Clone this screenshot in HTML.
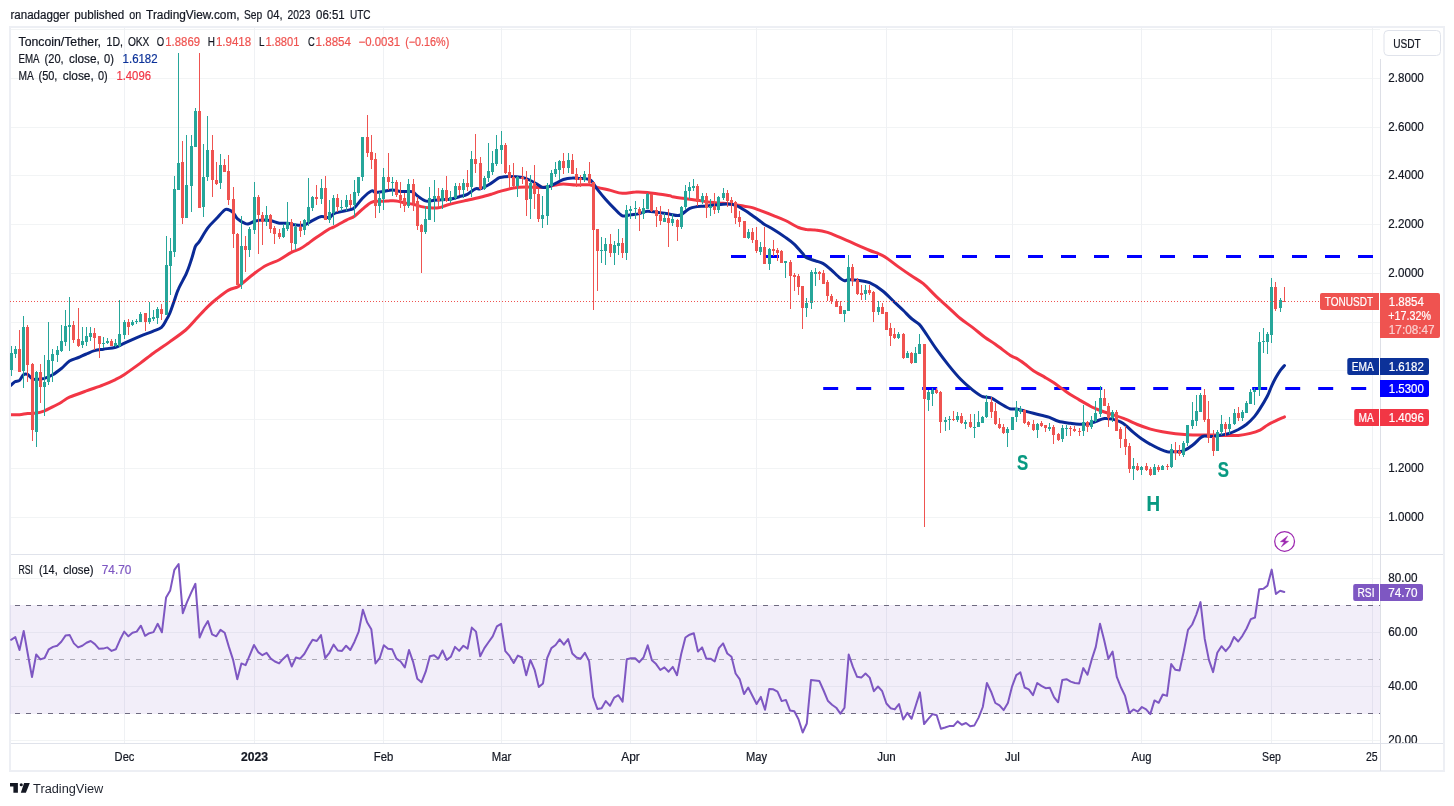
<!DOCTYPE html>
<html><head><meta charset="utf-8"><title>TONUSDT chart</title>
<style>html,body{margin:0;padding:0;background:#fff}svg{display:block}text{white-space:pre}</style></head>
<body>
<svg width="1454" height="806" viewBox="0 0 1454 806" font-family="'Liberation Sans', sans-serif" font-size="12" fill="#131722">
<rect width="1454" height="806" fill="#fff"/>
<rect x="10" y="27" width="1434" height="744" fill="none" stroke="#edeff4" stroke-width="2"/>
<g shape-rendering="crispEdges" fill="#f2f4f5">
<rect x="11" y="29" width="1369" height="1"/>
<rect x="11" y="78" width="1369" height="1"/>
<rect x="11" y="127" width="1369" height="1"/>
<rect x="11" y="175" width="1369" height="1"/>
<rect x="11" y="224" width="1369" height="1"/>
<rect x="11" y="273" width="1369" height="1"/>
<rect x="11" y="322" width="1369" height="1"/>
<rect x="11" y="370" width="1369" height="1"/>
<rect x="11" y="419" width="1369" height="1"/>
<rect x="11" y="468" width="1369" height="1"/>
<rect x="11" y="517" width="1369" height="1"/>
<rect x="11" y="578" width="1369" height="1"/>
<rect x="11" y="632" width="1369" height="1"/>
<rect x="11" y="686" width="1369" height="1"/>
<rect x="11" y="740" width="1369" height="1"/>
<rect x="124" y="28" width="1" height="715" fill="#eff1f4"/>
<rect x="254" y="28" width="1" height="715" fill="#eff1f4"/>
<rect x="383" y="28" width="1" height="715" fill="#eff1f4"/>
<rect x="501" y="28" width="1" height="715" fill="#eff1f4"/>
<rect x="630" y="28" width="1" height="715" fill="#eff1f4"/>
<rect x="756" y="28" width="1" height="715" fill="#eff1f4"/>
<rect x="886" y="28" width="1" height="715" fill="#eff1f4"/>
<rect x="1012" y="28" width="1" height="715" fill="#eff1f4"/>
<rect x="1141" y="28" width="1" height="715" fill="#eff1f4"/>
<rect x="1271" y="28" width="1" height="715" fill="#eff1f4"/>
<rect x="1372" y="28" width="1" height="715" fill="#eff1f4"/>
</g>
<rect x="10" y="605" width="1370" height="109" fill="#7e57c2" fill-opacity="0.1"/>
<g stroke="#787b86" stroke-width="1" shape-rendering="crispEdges">
<line x1="11" y1="605.5" x2="1380" y2="605.5" stroke-dasharray="5 6" stroke-dashoffset="-4" stroke="#6e6a80"/>
<line x1="11" y1="659.5" x2="1380" y2="659.5" stroke-dasharray="5 6" stroke-dashoffset="-4" stroke="#aaa8b4"/>
<line x1="11" y1="713.5" x2="1380" y2="713.5" stroke-dasharray="5 6" stroke-dashoffset="-4" stroke="#6e6a80"/>
</g>
<g shape-rendering="crispEdges" fill="#e0e3eb">
<rect x="11" y="554" width="1432" height="1"/>
<rect x="11" y="743" width="1432" height="1"/>
<rect x="1380" y="59" width="1" height="712" fill="#dddfe6"/>
</g>
<g fill="#0000ff"><rect x="731.0" y="255.0" width="15.0" height="3"/><rect x="764.0" y="255.0" width="15.0" height="3"/><rect x="797.0" y="255.0" width="15.0" height="3"/><rect x="830.0" y="255.0" width="15.0" height="3"/><rect x="863.0" y="255.0" width="15.0" height="3"/><rect x="896.0" y="255.0" width="15.0" height="3"/><rect x="929.0" y="255.0" width="15.0" height="3"/><rect x="962.0" y="255.0" width="15.0" height="3"/><rect x="995.0" y="255.0" width="15.0" height="3"/><rect x="1028.0" y="255.0" width="15.0" height="3"/><rect x="1061.0" y="255.0" width="15.0" height="3"/><rect x="1094.0" y="255.0" width="15.0" height="3"/><rect x="1127.0" y="255.0" width="15.0" height="3"/><rect x="1160.0" y="255.0" width="15.0" height="3"/><rect x="1193.0" y="255.0" width="15.0" height="3"/><rect x="1226.0" y="255.0" width="15.0" height="3"/><rect x="1259.0" y="255.0" width="15.0" height="3"/><rect x="1292.0" y="255.0" width="15.0" height="3"/><rect x="1325.0" y="255.0" width="15.0" height="3"/><rect x="1358.0" y="255.0" width="15.0" height="3"/><rect x="823.2" y="387.0" width="15.0" height="3"/><rect x="856.2" y="387.0" width="15.0" height="3"/><rect x="889.2" y="387.0" width="15.0" height="3"/><rect x="922.2" y="387.0" width="15.0" height="3"/><rect x="955.2" y="387.0" width="15.0" height="3"/><rect x="988.2" y="387.0" width="15.0" height="3"/><rect x="1021.2" y="387.0" width="15.0" height="3"/><rect x="1054.2" y="387.0" width="15.0" height="3"/><rect x="1087.2" y="387.0" width="15.0" height="3"/><rect x="1120.2" y="387.0" width="15.0" height="3"/><rect x="1153.2" y="387.0" width="15.0" height="3"/><rect x="1186.2" y="387.0" width="15.0" height="3"/><rect x="1219.2" y="387.0" width="15.0" height="3"/><rect x="1252.2" y="387.0" width="15.0" height="3"/><rect x="1285.2" y="387.0" width="15.0" height="3"/><rect x="1318.2" y="387.0" width="15.0" height="3"/><rect x="1351.2" y="387.0" width="15.0" height="3"/></g>
<clipPath id="mp"><rect x="11" y="29" width="1369" height="525"/></clipPath>
<g clip-path="url(#mp)" fill="none" stroke-width="3" stroke-linecap="round" stroke-linejoin="round"><path d="M10.3,414.7C11.9,414.7 16.6,414.9 19.5,414.7C22.3,414.5 24.8,413.8 27.6,413.5C30.4,413.3 33.5,413.6 36.3,413.1C39.2,412.7 41.8,411.8 44.5,410.8C47.2,409.7 49.8,408.2 52.6,406.8C55.4,405.4 58.6,403.8 61.4,402.2C64.2,400.6 65.3,399.1 69.5,397.2C73.7,395.4 80.8,392.9 86.4,390.9C92.0,388.8 98.4,386.9 103.3,384.9C108.2,383.0 112.2,381.1 115.8,379.4C119.3,377.6 120.4,377.1 124.5,374.4C128.6,371.7 135.6,366.6 140.4,363.1C145.2,359.5 149.8,355.7 153.3,353.2C156.8,350.6 158.7,349.5 161.5,347.6C164.3,345.7 166.0,344.6 170.0,341.6C174.1,338.7 181.5,333.6 185.7,330.0C190.0,326.3 191.8,323.7 195.4,319.8C199.1,316.0 204.0,310.4 207.6,306.9C211.1,303.5 213.0,301.8 216.5,299.0C220.0,296.2 225.1,292.0 228.6,290.1C232.1,288.1 235.2,288.1 237.3,287.1C239.4,286.1 238.4,286.4 241.3,284.1C244.2,281.8 250.4,276.3 254.6,273.2C258.8,270.1 262.4,267.5 266.5,265.3C270.6,263.0 275.3,261.9 279.4,259.7C283.5,257.6 287.8,254.2 291.3,252.4C294.8,250.5 297.4,250.3 300.2,248.8C303.0,247.3 305.5,245.3 308.2,243.4C310.8,241.5 313.5,239.5 316.3,237.5C319.1,235.5 323.0,233.0 325.2,231.5C327.5,230.0 328.6,229.3 330.0,228.5C331.4,227.8 330.8,228.5 333.5,227.1C336.2,225.7 342.9,222.0 346.4,220.1C349.9,218.3 351.9,218.0 354.5,216.2C357.2,214.4 359.7,211.5 362.5,209.2C365.3,206.9 368.6,203.6 371.4,202.3C374.2,201.0 376.7,201.5 379.5,201.3C382.4,201.1 385.7,201.0 388.5,200.9C391.3,200.8 393.7,200.6 396.4,200.9C399.1,201.2 401.7,202.3 404.5,202.9C407.4,203.4 410.5,203.6 413.3,204.3C416.1,204.9 418.7,206.1 421.4,206.6C424.1,207.2 426.5,207.6 429.3,207.8C432.2,208.0 435.6,208.3 438.5,207.8C441.3,207.4 443.6,206.1 446.4,205.3C449.2,204.4 451.9,203.7 455.3,202.9C458.8,202.0 463.1,201.2 467.3,200.3C471.4,199.4 476.2,198.4 480.3,197.3C484.5,196.3 489.0,194.9 492.3,193.9C495.5,193.0 496.5,192.4 500.0,191.4C503.5,190.4 509.0,188.7 513.4,188.0C517.8,187.3 522.1,187.1 526.3,187.0C530.5,186.9 534.9,187.4 538.4,187.4C541.9,187.4 544.5,187.4 547.4,187.0C550.2,186.6 552.8,185.5 555.5,185.0C558.2,184.5 560.0,184.0 563.4,184.0C566.9,184.0 572.0,184.9 576.3,185.0C580.7,185.1 585.9,184.4 589.4,184.8C592.9,185.2 593.9,186.5 597.4,187.4C600.9,188.3 606.3,189.4 610.5,190.4C614.6,191.4 618.2,193.1 622.4,193.3C626.5,193.6 631.3,192.1 635.5,192.0C639.6,191.8 643.2,192.0 647.4,192.4C651.5,192.8 656.5,193.8 660.3,194.3C664.0,194.9 668.0,195.3 670.0,195.7C672.0,196.1 669.9,196.2 672.5,196.7C675.1,197.2 681.3,198.1 685.4,198.7C689.5,199.3 693.1,199.7 697.3,200.3C701.5,200.9 706.1,201.8 710.4,202.3C714.7,202.8 719.1,202.9 723.3,203.3C727.5,203.7 731.9,204.2 735.4,204.7C738.9,205.1 741.5,205.7 744.3,206.2C747.2,206.7 749.6,206.9 752.3,207.6C755.0,208.4 757.1,209.3 760.6,210.6C764.2,211.9 769.4,213.9 773.5,215.6C777.6,217.2 781.3,218.5 785.4,220.5C789.6,222.5 795.0,226.0 798.5,227.5C802.0,229.0 803.6,229.0 806.5,229.5C809.3,229.9 811.9,229.6 815.4,230.1C818.9,230.5 823.4,231.2 827.5,232.4C831.6,233.7 833.1,234.5 840.0,237.4C846.9,240.3 862.3,247.3 868.7,250.0C875.1,252.7 875.4,252.2 878.4,253.6C881.4,254.9 883.2,255.7 886.6,257.9C889.9,260.2 894.3,263.9 898.5,266.9C902.6,269.8 907.2,273.0 911.4,275.8C915.5,278.6 919.1,280.3 923.3,283.7C927.4,287.2 932.2,292.7 936.4,296.6C940.6,300.6 944.5,303.9 948.5,307.6C952.5,311.2 956.4,315.2 960.4,318.5C964.4,321.8 968.4,324.3 972.5,327.4C976.6,330.5 981.0,334.5 984.8,337.3C988.6,340.1 991.1,341.3 995.3,344.3C999.5,347.2 1006.5,352.8 1010.0,355.2C1013.5,357.5 1014.2,357.0 1016.6,358.4C1019.0,359.8 1021.7,361.7 1024.5,363.7C1027.3,365.8 1030.0,368.4 1033.4,370.7C1036.9,373.0 1042.0,375.6 1045.3,377.6C1048.7,379.6 1050.6,380.7 1053.5,382.6C1056.3,384.5 1059.6,387.0 1062.4,388.9C1065.2,390.9 1067.5,392.7 1070.3,394.5C1073.2,396.3 1076.0,397.9 1079.3,399.9C1082.6,401.8 1087.3,404.5 1090.0,406.0C1092.7,407.5 1093.1,407.6 1095.5,408.6C1097.9,409.6 1101.6,411.0 1104.4,412.0C1107.2,413.0 1108.8,413.4 1112.3,414.6C1115.9,415.8 1121.3,417.5 1125.4,419.1C1129.6,420.8 1133.2,422.8 1137.4,424.5C1141.5,426.2 1146.3,427.8 1150.5,429.1C1154.6,430.3 1158.2,431.0 1162.4,431.8C1166.5,432.6 1171.3,433.3 1175.5,433.8C1179.7,434.3 1183.4,434.6 1187.6,434.8C1191.7,435.0 1196.2,435.0 1200.5,435.0C1204.8,435.0 1209.2,434.9 1213.4,435.0C1217.5,435.1 1221.3,435.3 1225.5,435.4C1229.6,435.5 1234.2,435.7 1238.4,435.4C1242.5,435.1 1246.7,434.3 1250.3,433.4C1253.9,432.5 1257.1,431.5 1260.0,430.1C1262.9,428.6 1265.0,426.5 1267.6,425.0C1270.2,423.4 1272.8,422.1 1275.6,420.8C1278.4,419.4 1283.0,417.5 1284.5,416.8" stroke="#f23645"/><path d="M10.3,385.7C11.1,385.1 13.4,382.7 14.9,381.8C16.4,380.9 18.0,381.5 19.5,380.4C20.9,379.2 22.1,375.8 23.4,374.8C24.8,373.8 26.1,373.7 27.6,374.4C29.1,375.1 30.9,378.0 32.4,378.8C33.8,379.6 34.3,379.4 36.3,379.4C38.4,379.3 41.8,379.1 44.5,378.4C47.2,377.6 49.8,376.5 52.6,374.8C55.4,373.2 58.6,370.7 61.4,368.5C64.2,366.2 66.7,362.9 69.5,361.1C72.4,359.3 75.6,358.7 78.5,357.5C81.3,356.3 83.7,355.1 86.4,354.0C89.1,352.8 91.7,351.4 94.5,350.6C97.4,349.8 99.7,349.7 103.3,349.2C106.8,348.6 112.2,348.2 115.8,347.2C119.3,346.2 120.4,345.1 124.5,343.2C128.6,341.4 135.6,338.1 140.4,336.1C145.2,334.1 149.8,332.6 153.3,331.1C156.8,329.7 159.3,329.2 161.5,327.3C163.7,325.5 165.0,322.2 166.4,319.8C167.9,317.4 168.7,316.0 170.0,312.8C171.3,309.7 172.8,304.9 174.2,301.0C175.6,297.0 176.3,293.7 178.4,289.1C180.4,284.4 184.3,278.2 186.5,273.2C188.7,268.2 190.0,263.8 191.5,259.3C193.0,254.8 194.1,249.4 195.4,246.4C196.8,243.4 197.4,244.5 199.4,241.4C201.4,238.4 204.7,232.0 207.6,228.1C210.4,224.3 213.7,221.6 216.5,218.6C219.3,215.6 222.4,211.6 224.4,210.1C226.4,208.6 227.1,209.3 228.6,209.7C230.1,210.1 231.9,211.2 233.3,212.7C234.8,214.2 235.3,216.8 237.3,218.6C239.3,220.4 243.4,222.8 245.5,223.6C247.5,224.4 247.9,224.0 249.4,223.6C250.9,223.2 252.4,221.8 254.6,221.2C256.8,220.6 259.9,220.1 262.5,220.0C265.2,219.9 267.6,220.1 270.5,220.6C273.3,221.1 276.6,222.8 279.4,223.2C282.2,223.6 284.6,222.9 287.3,223.2C290.0,223.5 292.7,224.7 295.5,225.0C298.3,225.3 301.4,225.7 304.2,225.0C307.0,224.2 309.5,222.0 312.3,220.6C315.2,219.2 318.5,217.1 321.3,216.6C324.1,216.1 327.2,218.1 329.2,217.6C331.2,217.2 331.5,214.8 333.5,213.8C335.5,212.8 338.6,212.3 341.4,211.6C344.2,210.9 348.2,210.3 350.4,209.6C352.5,209.0 352.5,209.5 354.5,207.6C356.5,205.8 359.7,201.1 362.5,198.3C365.3,195.5 369.2,192.0 371.4,191.0C373.5,190.0 373.4,192.3 375.4,192.4C377.4,192.4 380.7,191.8 383.5,191.4C386.3,191.0 389.6,190.0 392.4,190.0C395.2,190.0 397.7,191.1 400.4,191.4C403.1,191.6 406.4,191.3 408.5,191.4C410.7,191.5 411.8,191.2 413.3,192.0C414.7,192.7 415.2,194.2 417.2,195.7C419.3,197.2 422.5,200.1 425.4,200.9C428.2,201.7 431.5,200.5 434.3,200.3C437.2,200.1 439.8,199.9 442.4,199.7C445.1,199.5 447.6,199.8 450.4,199.3C453.2,198.8 456.5,197.6 459.3,196.7C462.1,195.9 464.6,195.7 467.3,194.3C469.9,193.0 473.2,189.7 475.4,188.8C477.6,187.9 478.2,189.4 480.3,188.8C482.5,188.2 485.6,186.6 488.3,185.0C491.0,183.5 494.5,180.7 496.4,179.5C498.4,178.2 497.8,178.0 500.0,177.5C502.2,177.0 505.7,176.5 509.4,176.5C513.2,176.5 518.8,176.8 522.3,177.5C525.9,178.1 527.8,179.2 530.5,180.5C533.2,181.7 536.4,183.9 538.4,185.0C540.4,186.2 540.9,187.1 542.4,187.4C543.9,187.7 545.2,187.7 547.4,187.0C549.5,186.3 552.8,184.7 555.5,183.4C558.2,182.2 560.6,180.4 563.4,179.5C566.2,178.6 569.5,178.2 572.4,178.1C575.2,177.9 577.6,178.2 580.5,178.5C583.3,178.7 587.3,178.6 589.4,179.5C591.6,180.3 592.1,181.8 593.4,183.4C594.7,185.1 595.3,186.7 597.4,189.4C599.4,192.0 602.7,196.1 605.5,199.3C608.3,202.5 611.6,205.9 614.4,208.6C617.2,211.4 619.7,214.7 622.4,215.8C625.0,216.8 627.7,215.1 630.5,214.8C633.3,214.4 636.6,214.2 639.4,213.6C642.2,213.0 644.6,211.4 647.4,211.2C650.2,211.0 653.5,211.9 656.3,212.2C659.1,212.5 662.2,212.9 664.4,213.2C666.7,213.5 667.8,213.8 670.0,214.2C672.2,214.6 675.6,215.5 677.5,215.6C679.4,215.6 679.4,215.7 681.4,214.6C683.4,213.4 686.7,209.9 689.4,208.6C692.0,207.3 694.5,207.1 697.3,206.6C700.2,206.2 702.9,206.4 706.4,206.0C709.9,205.7 714.8,205.0 718.3,204.7C721.9,204.3 724.6,204.0 727.5,204.1C730.3,204.2 732.6,204.3 735.4,205.2C738.2,206.2 741.5,208.3 744.3,210.0C747.2,211.7 749.6,213.6 752.3,215.6C755.0,217.5 758.6,220.0 760.6,221.5C762.7,223.0 762.4,223.2 764.6,224.5C766.7,225.8 770.0,227.3 773.5,229.5C777.0,231.6 781.9,234.9 785.4,237.4C788.9,239.9 791.5,241.7 794.4,244.3C797.2,247.0 800.5,251.0 802.5,253.3C804.5,255.5 804.3,256.6 806.5,257.8C808.6,259.1 812.6,259.9 815.4,260.8C818.2,261.8 820.6,262.0 823.3,263.6C826.0,265.1 828.7,267.7 831.5,270.1C834.2,272.6 837.8,276.3 840.0,278.1C842.2,279.8 843.1,280.5 844.5,280.8C845.9,281.0 846.3,279.9 848.5,279.8C850.6,279.7 853.9,279.7 857.4,280.2C860.9,280.7 865.3,281.0 869.5,282.7C873.7,284.5 878.2,287.4 882.4,290.7C886.6,293.9 891.0,298.9 894.5,302.2C898.0,305.5 900.6,307.8 903.4,310.5C906.2,313.2 908.7,316.2 911.4,318.5C914.0,320.8 917.1,322.3 919.3,324.4C921.5,326.6 921.6,327.2 924.5,331.4C927.3,335.5 932.4,343.6 936.4,349.2C940.4,354.8 944.5,360.1 948.5,365.1C952.5,370.1 956.4,374.9 960.4,379.0C964.4,383.1 968.9,387.0 972.5,389.9C976.1,392.8 979.1,395.1 982.2,396.5C985.3,397.8 988.1,396.6 991.1,397.8C994.2,399.1 997.5,402.0 1000.7,403.8C1003.8,405.6 1007.3,407.9 1010.0,408.8C1012.6,409.6 1014.2,408.6 1016.6,409.0C1019.0,409.4 1021.7,410.2 1024.5,411.0C1027.3,411.7 1030.6,412.6 1033.4,413.3C1036.2,414.1 1038.7,414.7 1041.4,415.3C1044.1,416.0 1046.7,416.3 1049.5,417.3C1052.4,418.3 1055.0,420.3 1058.4,421.3C1061.9,422.3 1066.9,422.8 1070.3,423.3C1073.8,423.8 1076.0,424.2 1079.3,424.3C1082.6,424.3 1087.3,424.1 1090.0,423.7C1092.7,423.2 1093.1,422.4 1095.5,421.5C1097.9,420.7 1101.6,418.9 1104.4,418.5C1107.2,418.1 1109.7,418.6 1112.3,419.1C1115.0,419.7 1118.3,420.9 1120.5,421.9C1122.7,422.9 1123.3,423.3 1125.4,425.1C1127.6,426.8 1130.7,430.2 1133.4,432.4C1136.1,434.7 1138.7,436.8 1141.5,438.8C1144.4,440.8 1147.6,442.8 1150.5,444.3C1153.3,445.9 1155.6,447.1 1158.4,448.3C1161.2,449.5 1164.5,451.1 1167.3,451.7C1170.2,452.2 1172.8,451.8 1175.5,451.7C1178.1,451.6 1180.5,451.9 1183.4,450.9C1186.2,449.8 1189.7,447.5 1192.5,445.3C1195.4,443.2 1198.5,439.3 1200.5,437.8C1202.4,436.2 1202.3,436.2 1204.4,436.0C1206.6,435.8 1210.5,436.6 1213.4,436.4C1216.2,436.2 1218.6,435.5 1221.3,435.0C1224.0,434.5 1226.6,434.4 1229.4,433.4C1232.3,432.5 1235.6,430.9 1238.4,429.5C1241.2,428.0 1243.6,426.6 1246.3,424.5C1249.0,422.3 1252.2,419.2 1254.4,416.6C1256.7,413.9 1257.8,412.1 1260.0,408.6C1262.2,405.2 1265.5,399.7 1267.4,396.0C1269.4,392.2 1270.2,389.0 1271.6,386.1C1273.0,383.1 1274.1,380.8 1275.6,378.1C1277.1,375.5 1279.0,372.3 1280.5,370.2C1282.0,368.1 1283.8,366.4 1284.5,365.6" stroke="#0a2a96"/></g>
<g shape-rendering="crispEdges">
<rect x="11" y="346" width="1" height="30" fill="#26a69a"/><rect x="10" y="353" width="3" height="17" fill="#26a69a"/>
<rect x="15" y="346" width="1" height="12" fill="#26a69a"/><rect x="14" y="349" width="3" height="5" fill="#26a69a"/>
<rect x="19" y="330" width="1" height="42" fill="#ef5350"/><rect x="18" y="349" width="3" height="23" fill="#ef5350"/>
<rect x="23" y="316" width="1" height="72" fill="#26a69a"/><rect x="22" y="327" width="3" height="44" fill="#26a69a"/>
<rect x="27" y="325" width="1" height="57" fill="#ef5350"/><rect x="26" y="327" width="3" height="38" fill="#ef5350"/>
<rect x="32" y="363" width="1" height="78" fill="#ef5350"/><rect x="31" y="364" width="3" height="66" fill="#ef5350"/>
<rect x="36" y="371" width="1" height="76" fill="#26a69a"/><rect x="35" y="372" width="3" height="60" fill="#26a69a"/>
<rect x="40" y="364" width="1" height="39" fill="#ef5350"/><rect x="39" y="372" width="3" height="15" fill="#ef5350"/>
<rect x="44" y="355" width="1" height="61" fill="#26a69a"/><rect x="43" y="382" width="3" height="5" fill="#26a69a"/>
<rect x="48" y="322" width="1" height="63" fill="#26a69a"/><rect x="47" y="360" width="3" height="22" fill="#26a69a"/>
<rect x="52" y="349" width="1" height="33" fill="#26a69a"/><rect x="51" y="354" width="3" height="7" fill="#26a69a"/>
<rect x="57" y="346" width="1" height="16" fill="#26a69a"/><rect x="56" y="350" width="3" height="5" fill="#26a69a"/>
<rect x="61" y="325" width="1" height="27" fill="#26a69a"/><rect x="60" y="341" width="3" height="10" fill="#26a69a"/>
<rect x="65" y="310" width="1" height="36" fill="#26a69a"/><rect x="64" y="326" width="3" height="16" fill="#26a69a"/>
<rect x="69" y="297" width="1" height="54" fill="#26a69a"/><rect x="68" y="325" width="3" height="2" fill="#26a69a"/>
<rect x="73" y="321" width="1" height="22" fill="#ef5350"/><rect x="72" y="325" width="3" height="15" fill="#ef5350"/>
<rect x="78" y="308" width="1" height="39" fill="#ef5350"/><rect x="77" y="339" width="3" height="7" fill="#ef5350"/>
<rect x="82" y="327" width="1" height="21" fill="#26a69a"/><rect x="81" y="341" width="3" height="4" fill="#26a69a"/>
<rect x="86" y="327" width="1" height="19" fill="#26a69a"/><rect x="85" y="336" width="3" height="6" fill="#26a69a"/>
<rect x="90" y="327" width="1" height="14" fill="#26a69a"/><rect x="89" y="333" width="3" height="4" fill="#26a69a"/>
<rect x="94" y="328" width="1" height="22" fill="#ef5350"/><rect x="93" y="333" width="3" height="5" fill="#ef5350"/>
<rect x="99" y="336" width="1" height="22" fill="#ef5350"/><rect x="98" y="336" width="3" height="8" fill="#ef5350"/>
<rect x="103" y="337" width="1" height="11" fill="#26a69a"/><rect x="102" y="343" width="3" height="1" fill="#26a69a"/>
<rect x="107" y="338" width="1" height="6" fill="#26a69a"/><rect x="106" y="341" width="3" height="2" fill="#26a69a"/>
<rect x="111" y="339" width="1" height="7" fill="#ef5350"/><rect x="110" y="341" width="3" height="5" fill="#ef5350"/>
<rect x="115" y="339" width="1" height="8" fill="#26a69a"/><rect x="114" y="343" width="3" height="3" fill="#26a69a"/>
<rect x="119" y="300" width="1" height="47" fill="#26a69a"/><rect x="118" y="334" width="3" height="12" fill="#26a69a"/>
<rect x="124" y="320" width="1" height="19" fill="#26a69a"/><rect x="123" y="322" width="3" height="13" fill="#26a69a"/>
<rect x="128" y="319" width="1" height="16" fill="#ef5350"/><rect x="127" y="322" width="3" height="5" fill="#ef5350"/>
<rect x="132" y="320" width="1" height="6" fill="#26a69a"/><rect x="131" y="322" width="3" height="3" fill="#26a69a"/>
<rect x="136" y="319" width="1" height="5" fill="#26a69a"/><rect x="135" y="321" width="3" height="1" fill="#26a69a"/>
<rect x="140" y="312" width="1" height="10" fill="#26a69a"/><rect x="139" y="314" width="3" height="8" fill="#26a69a"/>
<rect x="145" y="313" width="1" height="18" fill="#ef5350"/><rect x="144" y="313" width="3" height="9" fill="#ef5350"/>
<rect x="149" y="302" width="1" height="22" fill="#26a69a"/><rect x="148" y="318" width="3" height="4" fill="#26a69a"/>
<rect x="153" y="310" width="1" height="11" fill="#26a69a"/><rect x="152" y="317" width="3" height="2" fill="#26a69a"/>
<rect x="157" y="307" width="1" height="17" fill="#26a69a"/><rect x="156" y="309" width="3" height="9" fill="#26a69a"/>
<rect x="161" y="304" width="1" height="16" fill="#ef5350"/><rect x="160" y="309" width="3" height="5" fill="#ef5350"/>
<rect x="166" y="236" width="1" height="79" fill="#26a69a"/><rect x="165" y="265" width="3" height="50" fill="#26a69a"/>
<rect x="170" y="238" width="1" height="57" fill="#26a69a"/><rect x="169" y="251" width="3" height="15" fill="#26a69a"/>
<rect x="174" y="176" width="1" height="81" fill="#26a69a"/><rect x="173" y="189" width="3" height="63" fill="#26a69a"/>
<rect x="178" y="53" width="1" height="137" fill="#26a69a"/><rect x="177" y="163" width="3" height="27" fill="#26a69a"/>
<rect x="182" y="141" width="1" height="83" fill="#ef5350"/><rect x="181" y="162" width="3" height="56" fill="#ef5350"/>
<rect x="186" y="135" width="1" height="83" fill="#26a69a"/><rect x="185" y="185" width="3" height="33" fill="#26a69a"/>
<rect x="191" y="135" width="1" height="77" fill="#26a69a"/><rect x="190" y="146" width="3" height="40" fill="#26a69a"/>
<rect x="195" y="108" width="1" height="39" fill="#26a69a"/><rect x="194" y="111" width="3" height="36" fill="#26a69a"/>
<rect x="199" y="53" width="1" height="155" fill="#ef5350"/><rect x="198" y="111" width="3" height="97" fill="#ef5350"/>
<rect x="203" y="144" width="1" height="73" fill="#26a69a"/><rect x="202" y="177" width="3" height="30" fill="#26a69a"/>
<rect x="207" y="116" width="1" height="65" fill="#26a69a"/><rect x="206" y="150" width="3" height="27" fill="#26a69a"/>
<rect x="212" y="135" width="1" height="62" fill="#ef5350"/><rect x="211" y="150" width="3" height="30" fill="#ef5350"/>
<rect x="216" y="162" width="1" height="23" fill="#ef5350"/><rect x="215" y="180" width="3" height="4" fill="#ef5350"/>
<rect x="220" y="154" width="1" height="35" fill="#26a69a"/><rect x="219" y="165" width="3" height="18" fill="#26a69a"/>
<rect x="224" y="159" width="1" height="13" fill="#ef5350"/><rect x="223" y="165" width="3" height="7" fill="#ef5350"/>
<rect x="228" y="155" width="1" height="50" fill="#ef5350"/><rect x="227" y="171" width="3" height="29" fill="#ef5350"/>
<rect x="233" y="187" width="1" height="61" fill="#ef5350"/><rect x="232" y="199" width="3" height="35" fill="#ef5350"/>
<rect x="237" y="233" width="1" height="52" fill="#ef5350"/><rect x="236" y="234" width="3" height="51" fill="#ef5350"/>
<rect x="241" y="216" width="1" height="73" fill="#26a69a"/><rect x="240" y="246" width="3" height="39" fill="#26a69a"/>
<rect x="245" y="236" width="1" height="36" fill="#ef5350"/><rect x="244" y="246" width="3" height="4" fill="#ef5350"/>
<rect x="249" y="227" width="1" height="30" fill="#26a69a"/><rect x="248" y="229" width="3" height="21" fill="#26a69a"/>
<rect x="254" y="182" width="1" height="52" fill="#26a69a"/><rect x="253" y="197" width="3" height="33" fill="#26a69a"/>
<rect x="258" y="195" width="1" height="59" fill="#ef5350"/><rect x="257" y="197" width="3" height="18" fill="#ef5350"/>
<rect x="262" y="212" width="1" height="33" fill="#ef5350"/><rect x="261" y="215" width="3" height="7" fill="#ef5350"/>
<rect x="266" y="206" width="1" height="20" fill="#26a69a"/><rect x="265" y="215" width="3" height="7" fill="#26a69a"/>
<rect x="270" y="214" width="1" height="19" fill="#ef5350"/><rect x="269" y="215" width="3" height="14" fill="#ef5350"/>
<rect x="274" y="226" width="1" height="18" fill="#ef5350"/><rect x="273" y="228" width="3" height="6" fill="#ef5350"/>
<rect x="279" y="229" width="1" height="10" fill="#ef5350"/><rect x="278" y="233" width="3" height="4" fill="#ef5350"/>
<rect x="283" y="224" width="1" height="14" fill="#26a69a"/><rect x="282" y="228" width="3" height="9" fill="#26a69a"/>
<rect x="287" y="202" width="1" height="29" fill="#26a69a"/><rect x="286" y="222" width="3" height="7" fill="#26a69a"/>
<rect x="291" y="219" width="1" height="32" fill="#ef5350"/><rect x="290" y="222" width="3" height="21" fill="#ef5350"/>
<rect x="295" y="223" width="1" height="27" fill="#26a69a"/><rect x="294" y="227" width="3" height="17" fill="#26a69a"/>
<rect x="300" y="221" width="1" height="16" fill="#ef5350"/><rect x="299" y="227" width="3" height="4" fill="#ef5350"/>
<rect x="304" y="219" width="1" height="16" fill="#26a69a"/><rect x="303" y="220" width="3" height="10" fill="#26a69a"/>
<rect x="308" y="178" width="1" height="48" fill="#26a69a"/><rect x="307" y="207" width="3" height="15" fill="#26a69a"/>
<rect x="312" y="196" width="1" height="15" fill="#26a69a"/><rect x="311" y="197" width="3" height="11" fill="#26a69a"/>
<rect x="316" y="185" width="1" height="20" fill="#ef5350"/><rect x="315" y="197" width="3" height="2" fill="#ef5350"/>
<rect x="321" y="179" width="1" height="25" fill="#26a69a"/><rect x="320" y="188" width="3" height="11" fill="#26a69a"/>
<rect x="325" y="176" width="1" height="44" fill="#ef5350"/><rect x="324" y="188" width="3" height="32" fill="#ef5350"/>
<rect x="329" y="200" width="1" height="23" fill="#26a69a"/><rect x="328" y="212" width="3" height="8" fill="#26a69a"/>
<rect x="333" y="195" width="1" height="30" fill="#26a69a"/><rect x="332" y="198" width="3" height="15" fill="#26a69a"/>
<rect x="337" y="194" width="1" height="18" fill="#ef5350"/><rect x="336" y="198" width="3" height="9" fill="#ef5350"/>
<rect x="341" y="200" width="1" height="11" fill="#26a69a"/><rect x="340" y="207" width="3" height="1" fill="#26a69a"/>
<rect x="346" y="195" width="1" height="16" fill="#26a69a"/><rect x="345" y="200" width="3" height="7" fill="#26a69a"/>
<rect x="350" y="194" width="1" height="14" fill="#ef5350"/><rect x="349" y="200" width="3" height="5" fill="#ef5350"/>
<rect x="354" y="180" width="1" height="37" fill="#26a69a"/><rect x="353" y="192" width="3" height="13" fill="#26a69a"/>
<rect x="358" y="177" width="1" height="19" fill="#26a69a"/><rect x="357" y="177" width="3" height="16" fill="#26a69a"/>
<rect x="362" y="137" width="1" height="44" fill="#26a69a"/><rect x="361" y="137" width="3" height="40" fill="#26a69a"/>
<rect x="367" y="115" width="1" height="42" fill="#ef5350"/><rect x="366" y="137" width="3" height="16" fill="#ef5350"/>
<rect x="371" y="135" width="1" height="34" fill="#ef5350"/><rect x="370" y="152" width="3" height="8" fill="#ef5350"/>
<rect x="375" y="153" width="1" height="65" fill="#ef5350"/><rect x="374" y="159" width="3" height="47" fill="#ef5350"/>
<rect x="379" y="192" width="1" height="21" fill="#26a69a"/><rect x="378" y="198" width="3" height="8" fill="#26a69a"/>
<rect x="383" y="168" width="1" height="42" fill="#26a69a"/><rect x="382" y="177" width="3" height="22" fill="#26a69a"/>
<rect x="388" y="153" width="1" height="37" fill="#ef5350"/><rect x="387" y="177" width="3" height="5" fill="#ef5350"/>
<rect x="392" y="177" width="1" height="19" fill="#26a69a"/><rect x="391" y="182" width="3" height="1" fill="#26a69a"/>
<rect x="396" y="180" width="1" height="17" fill="#ef5350"/><rect x="395" y="182" width="3" height="13" fill="#ef5350"/>
<rect x="400" y="182" width="1" height="26" fill="#ef5350"/><rect x="399" y="195" width="3" height="5" fill="#ef5350"/>
<rect x="404" y="193" width="1" height="19" fill="#ef5350"/><rect x="403" y="198" width="3" height="8" fill="#ef5350"/>
<rect x="408" y="179" width="1" height="29" fill="#26a69a"/><rect x="407" y="184" width="3" height="22" fill="#26a69a"/>
<rect x="413" y="179" width="1" height="32" fill="#ef5350"/><rect x="412" y="184" width="3" height="19" fill="#ef5350"/>
<rect x="417" y="197" width="1" height="33" fill="#ef5350"/><rect x="416" y="201" width="3" height="25" fill="#ef5350"/>
<rect x="421" y="224" width="1" height="49" fill="#ef5350"/><rect x="420" y="225" width="3" height="7" fill="#ef5350"/>
<rect x="425" y="206" width="1" height="28" fill="#26a69a"/><rect x="424" y="219" width="3" height="13" fill="#26a69a"/>
<rect x="429" y="187" width="1" height="33" fill="#26a69a"/><rect x="428" y="198" width="3" height="22" fill="#26a69a"/>
<rect x="434" y="180" width="1" height="42" fill="#26a69a"/><rect x="433" y="196" width="3" height="3" fill="#26a69a"/>
<rect x="438" y="188" width="1" height="19" fill="#ef5350"/><rect x="437" y="196" width="3" height="5" fill="#ef5350"/>
<rect x="442" y="188" width="1" height="21" fill="#26a69a"/><rect x="441" y="190" width="3" height="11" fill="#26a69a"/>
<rect x="446" y="176" width="1" height="26" fill="#ef5350"/><rect x="445" y="190" width="3" height="11" fill="#ef5350"/>
<rect x="450" y="191" width="1" height="12" fill="#26a69a"/><rect x="449" y="197" width="3" height="4" fill="#26a69a"/>
<rect x="455" y="183" width="1" height="17" fill="#26a69a"/><rect x="454" y="186" width="3" height="12" fill="#26a69a"/>
<rect x="459" y="183" width="1" height="12" fill="#ef5350"/><rect x="458" y="186" width="3" height="4" fill="#ef5350"/>
<rect x="463" y="179" width="1" height="19" fill="#26a69a"/><rect x="462" y="183" width="3" height="7" fill="#26a69a"/>
<rect x="467" y="170" width="1" height="21" fill="#ef5350"/><rect x="466" y="183" width="3" height="4" fill="#ef5350"/>
<rect x="471" y="151" width="1" height="46" fill="#26a69a"/><rect x="470" y="159" width="3" height="28" fill="#26a69a"/>
<rect x="475" y="134" width="1" height="39" fill="#ef5350"/><rect x="474" y="159" width="3" height="5" fill="#ef5350"/>
<rect x="480" y="157" width="1" height="33" fill="#ef5350"/><rect x="479" y="163" width="3" height="26" fill="#ef5350"/>
<rect x="484" y="176" width="1" height="14" fill="#26a69a"/><rect x="483" y="178" width="3" height="11" fill="#26a69a"/>
<rect x="488" y="143" width="1" height="39" fill="#26a69a"/><rect x="487" y="171" width="3" height="7" fill="#26a69a"/>
<rect x="492" y="151" width="1" height="24" fill="#26a69a"/><rect x="491" y="163" width="3" height="9" fill="#26a69a"/>
<rect x="496" y="135" width="1" height="31" fill="#26a69a"/><rect x="495" y="149" width="3" height="15" fill="#26a69a"/>
<rect x="501" y="131" width="1" height="33" fill="#26a69a"/><rect x="500" y="145" width="3" height="5" fill="#26a69a"/>
<rect x="505" y="143" width="1" height="31" fill="#ef5350"/><rect x="504" y="145" width="3" height="28" fill="#ef5350"/>
<rect x="509" y="165" width="1" height="23" fill="#ef5350"/><rect x="508" y="172" width="3" height="6" fill="#ef5350"/>
<rect x="513" y="163" width="1" height="24" fill="#ef5350"/><rect x="512" y="177" width="3" height="9" fill="#ef5350"/>
<rect x="517" y="176" width="1" height="21" fill="#26a69a"/><rect x="516" y="177" width="3" height="9" fill="#26a69a"/>
<rect x="522" y="167" width="1" height="17" fill="#ef5350"/><rect x="521" y="177" width="3" height="2" fill="#ef5350"/>
<rect x="526" y="171" width="1" height="45" fill="#ef5350"/><rect x="525" y="179" width="3" height="21" fill="#ef5350"/>
<rect x="530" y="175" width="1" height="44" fill="#26a69a"/><rect x="529" y="183" width="3" height="16" fill="#26a69a"/>
<rect x="534" y="165" width="1" height="44" fill="#ef5350"/><rect x="533" y="183" width="3" height="11" fill="#ef5350"/>
<rect x="538" y="188" width="1" height="34" fill="#ef5350"/><rect x="537" y="194" width="3" height="25" fill="#ef5350"/>
<rect x="542" y="196" width="1" height="32" fill="#26a69a"/><rect x="541" y="215" width="3" height="4" fill="#26a69a"/>
<rect x="547" y="183" width="1" height="42" fill="#26a69a"/><rect x="546" y="185" width="3" height="31" fill="#26a69a"/>
<rect x="551" y="170" width="1" height="20" fill="#26a69a"/><rect x="550" y="173" width="3" height="13" fill="#26a69a"/>
<rect x="555" y="162" width="1" height="15" fill="#26a69a"/><rect x="554" y="169" width="3" height="5" fill="#26a69a"/>
<rect x="559" y="160" width="1" height="20" fill="#26a69a"/><rect x="558" y="161" width="3" height="9" fill="#26a69a"/>
<rect x="563" y="153" width="1" height="21" fill="#ef5350"/><rect x="562" y="161" width="3" height="7" fill="#ef5350"/>
<rect x="568" y="153" width="1" height="20" fill="#26a69a"/><rect x="567" y="160" width="3" height="8" fill="#26a69a"/>
<rect x="572" y="154" width="1" height="20" fill="#ef5350"/><rect x="571" y="160" width="3" height="14" fill="#ef5350"/>
<rect x="576" y="168" width="1" height="19" fill="#ef5350"/><rect x="575" y="174" width="3" height="6" fill="#ef5350"/>
<rect x="580" y="175" width="1" height="12" fill="#ef5350"/><rect x="579" y="178" width="3" height="2" fill="#ef5350"/>
<rect x="584" y="171" width="1" height="11" fill="#26a69a"/><rect x="583" y="174" width="3" height="6" fill="#26a69a"/>
<rect x="589" y="162" width="1" height="22" fill="#ef5350"/><rect x="588" y="174" width="3" height="9" fill="#ef5350"/>
<rect x="593" y="182" width="1" height="128" fill="#ef5350"/><rect x="592" y="182" width="3" height="48" fill="#ef5350"/>
<rect x="597" y="229" width="1" height="62" fill="#ef5350"/><rect x="596" y="229" width="3" height="22" fill="#ef5350"/>
<rect x="601" y="237" width="1" height="26" fill="#26a69a"/><rect x="600" y="250" width="3" height="1" fill="#26a69a"/>
<rect x="605" y="238" width="1" height="27" fill="#26a69a"/><rect x="604" y="244" width="3" height="7" fill="#26a69a"/>
<rect x="610" y="234" width="1" height="23" fill="#ef5350"/><rect x="609" y="244" width="3" height="9" fill="#ef5350"/>
<rect x="614" y="241" width="1" height="24" fill="#26a69a"/><rect x="613" y="245" width="3" height="8" fill="#26a69a"/>
<rect x="618" y="229" width="1" height="26" fill="#26a69a"/><rect x="617" y="243" width="3" height="3" fill="#26a69a"/>
<rect x="622" y="238" width="1" height="20" fill="#ef5350"/><rect x="621" y="243" width="3" height="10" fill="#ef5350"/>
<rect x="626" y="205" width="1" height="55" fill="#26a69a"/><rect x="625" y="210" width="3" height="43" fill="#26a69a"/>
<rect x="630" y="206" width="1" height="13" fill="#26a69a"/><rect x="629" y="209" width="3" height="2" fill="#26a69a"/>
<rect x="635" y="201" width="1" height="18" fill="#26a69a"/><rect x="634" y="208" width="3" height="1" fill="#26a69a"/>
<rect x="639" y="207" width="1" height="24" fill="#ef5350"/><rect x="638" y="209" width="3" height="5" fill="#ef5350"/>
<rect x="643" y="199" width="1" height="20" fill="#26a69a"/><rect x="642" y="208" width="3" height="6" fill="#26a69a"/>
<rect x="647" y="193" width="1" height="16" fill="#26a69a"/><rect x="646" y="194" width="3" height="15" fill="#26a69a"/>
<rect x="651" y="194" width="1" height="18" fill="#ef5350"/><rect x="650" y="194" width="3" height="17" fill="#ef5350"/>
<rect x="656" y="207" width="1" height="20" fill="#ef5350"/><rect x="655" y="210" width="3" height="6" fill="#ef5350"/>
<rect x="660" y="206" width="1" height="19" fill="#ef5350"/><rect x="659" y="215" width="3" height="6" fill="#ef5350"/>
<rect x="664" y="213" width="1" height="9" fill="#26a69a"/><rect x="663" y="218" width="3" height="4" fill="#26a69a"/>
<rect x="668" y="209" width="1" height="38" fill="#ef5350"/><rect x="667" y="218" width="3" height="5" fill="#ef5350"/>
<rect x="672" y="214" width="1" height="12" fill="#26a69a"/><rect x="671" y="219" width="3" height="4" fill="#26a69a"/>
<rect x="677" y="219" width="1" height="22" fill="#ef5350"/><rect x="676" y="220" width="3" height="7" fill="#ef5350"/>
<rect x="681" y="206" width="1" height="23" fill="#26a69a"/><rect x="680" y="207" width="3" height="20" fill="#26a69a"/>
<rect x="685" y="185" width="1" height="25" fill="#26a69a"/><rect x="684" y="191" width="3" height="16" fill="#26a69a"/>
<rect x="689" y="182" width="1" height="17" fill="#26a69a"/><rect x="688" y="187" width="3" height="4" fill="#26a69a"/>
<rect x="693" y="179" width="1" height="12" fill="#26a69a"/><rect x="692" y="186" width="3" height="2" fill="#26a69a"/>
<rect x="697" y="184" width="1" height="22" fill="#ef5350"/><rect x="696" y="186" width="3" height="16" fill="#ef5350"/>
<rect x="702" y="193" width="1" height="11" fill="#26a69a"/><rect x="701" y="196" width="3" height="6" fill="#26a69a"/>
<rect x="706" y="193" width="1" height="25" fill="#ef5350"/><rect x="705" y="196" width="3" height="12" fill="#ef5350"/>
<rect x="710" y="199" width="1" height="17" fill="#26a69a"/><rect x="709" y="206" width="3" height="2" fill="#26a69a"/>
<rect x="714" y="193" width="1" height="21" fill="#ef5350"/><rect x="713" y="206" width="3" height="4" fill="#ef5350"/>
<rect x="718" y="196" width="1" height="17" fill="#26a69a"/><rect x="717" y="197" width="3" height="13" fill="#26a69a"/>
<rect x="723" y="188" width="1" height="12" fill="#26a69a"/><rect x="722" y="193" width="3" height="5" fill="#26a69a"/>
<rect x="727" y="190" width="1" height="17" fill="#ef5350"/><rect x="726" y="193" width="3" height="8" fill="#ef5350"/>
<rect x="731" y="197" width="1" height="16" fill="#ef5350"/><rect x="730" y="200" width="3" height="3" fill="#ef5350"/>
<rect x="735" y="201" width="1" height="23" fill="#ef5350"/><rect x="734" y="202" width="3" height="16" fill="#ef5350"/>
<rect x="739" y="211" width="1" height="16" fill="#ef5350"/><rect x="738" y="217" width="3" height="5" fill="#ef5350"/>
<rect x="744" y="221" width="1" height="17" fill="#ef5350"/><rect x="743" y="221" width="3" height="17" fill="#ef5350"/>
<rect x="748" y="229" width="1" height="10" fill="#26a69a"/><rect x="747" y="232" width="3" height="6" fill="#26a69a"/>
<rect x="752" y="228" width="1" height="15" fill="#ef5350"/><rect x="751" y="232" width="3" height="8" fill="#ef5350"/>
<rect x="756" y="227" width="1" height="26" fill="#ef5350"/><rect x="755" y="240" width="3" height="11" fill="#ef5350"/>
<rect x="760" y="242" width="1" height="13" fill="#26a69a"/><rect x="759" y="247" width="3" height="5" fill="#26a69a"/>
<rect x="764" y="227" width="1" height="37" fill="#ef5350"/><rect x="763" y="247" width="3" height="17" fill="#ef5350"/>
<rect x="769" y="248" width="1" height="22" fill="#26a69a"/><rect x="768" y="249" width="3" height="15" fill="#26a69a"/>
<rect x="773" y="240" width="1" height="16" fill="#ef5350"/><rect x="772" y="249" width="3" height="2" fill="#ef5350"/>
<rect x="777" y="248" width="1" height="13" fill="#ef5350"/><rect x="776" y="250" width="3" height="3" fill="#ef5350"/>
<rect x="781" y="250" width="1" height="13" fill="#ef5350"/><rect x="780" y="251" width="3" height="12" fill="#ef5350"/>
<rect x="785" y="261" width="1" height="17" fill="#26a69a"/><rect x="784" y="261" width="3" height="2" fill="#26a69a"/>
<rect x="790" y="260" width="1" height="49" fill="#ef5350"/><rect x="789" y="262" width="3" height="14" fill="#ef5350"/>
<rect x="794" y="273" width="1" height="18" fill="#ef5350"/><rect x="793" y="275" width="3" height="2" fill="#ef5350"/>
<rect x="798" y="274" width="1" height="21" fill="#ef5350"/><rect x="797" y="276" width="3" height="11" fill="#ef5350"/>
<rect x="802" y="286" width="1" height="43" fill="#ef5350"/><rect x="801" y="286" width="3" height="22" fill="#ef5350"/>
<rect x="806" y="298" width="1" height="19" fill="#26a69a"/><rect x="805" y="303" width="3" height="5" fill="#26a69a"/>
<rect x="811" y="270" width="1" height="39" fill="#26a69a"/><rect x="810" y="272" width="3" height="31" fill="#26a69a"/>
<rect x="815" y="268" width="1" height="18" fill="#26a69a"/><rect x="814" y="272" width="3" height="2" fill="#26a69a"/>
<rect x="819" y="271" width="1" height="9" fill="#ef5350"/><rect x="818" y="272" width="3" height="2" fill="#ef5350"/>
<rect x="823" y="270" width="1" height="14" fill="#ef5350"/><rect x="822" y="273" width="3" height="11" fill="#ef5350"/>
<rect x="827" y="280" width="1" height="21" fill="#ef5350"/><rect x="826" y="282" width="3" height="14" fill="#ef5350"/>
<rect x="831" y="294" width="1" height="10" fill="#ef5350"/><rect x="830" y="296" width="3" height="5" fill="#ef5350"/>
<rect x="836" y="299" width="1" height="8" fill="#ef5350"/><rect x="835" y="301" width="3" height="6" fill="#ef5350"/>
<rect x="840" y="301" width="1" height="13" fill="#ef5350"/><rect x="839" y="306" width="3" height="8" fill="#ef5350"/>
<rect x="844" y="310" width="1" height="12" fill="#26a69a"/><rect x="843" y="310" width="3" height="4" fill="#26a69a"/>
<rect x="848" y="255" width="1" height="56" fill="#26a69a"/><rect x="847" y="267" width="3" height="44" fill="#26a69a"/>
<rect x="852" y="264" width="1" height="22" fill="#ef5350"/><rect x="851" y="267" width="3" height="14" fill="#ef5350"/>
<rect x="857" y="278" width="1" height="17" fill="#ef5350"/><rect x="856" y="280" width="3" height="14" fill="#ef5350"/>
<rect x="861" y="285" width="1" height="15" fill="#ef5350"/><rect x="860" y="293" width="3" height="2" fill="#ef5350"/>
<rect x="865" y="285" width="1" height="15" fill="#26a69a"/><rect x="864" y="290" width="3" height="4" fill="#26a69a"/>
<rect x="869" y="285" width="1" height="10" fill="#ef5350"/><rect x="868" y="290" width="3" height="3" fill="#ef5350"/>
<rect x="873" y="291" width="1" height="31" fill="#ef5350"/><rect x="872" y="292" width="3" height="20" fill="#ef5350"/>
<rect x="878" y="301" width="1" height="14" fill="#26a69a"/><rect x="877" y="307" width="3" height="5" fill="#26a69a"/>
<rect x="882" y="303" width="1" height="11" fill="#ef5350"/><rect x="881" y="307" width="3" height="7" fill="#ef5350"/>
<rect x="886" y="312" width="1" height="18" fill="#ef5350"/><rect x="885" y="312" width="3" height="18" fill="#ef5350"/>
<rect x="890" y="323" width="1" height="23" fill="#ef5350"/><rect x="889" y="328" width="3" height="8" fill="#ef5350"/>
<rect x="894" y="328" width="1" height="11" fill="#ef5350"/><rect x="893" y="334" width="3" height="4" fill="#ef5350"/>
<rect x="898" y="332" width="1" height="7" fill="#26a69a"/><rect x="897" y="334" width="3" height="4" fill="#26a69a"/>
<rect x="903" y="333" width="1" height="26" fill="#ef5350"/><rect x="902" y="334" width="3" height="24" fill="#ef5350"/>
<rect x="907" y="351" width="1" height="7" fill="#26a69a"/><rect x="906" y="353" width="3" height="5" fill="#26a69a"/>
<rect x="911" y="352" width="1" height="12" fill="#ef5350"/><rect x="910" y="353" width="3" height="10" fill="#ef5350"/>
<rect x="915" y="347" width="1" height="16" fill="#26a69a"/><rect x="914" y="353" width="3" height="10" fill="#26a69a"/>
<rect x="919" y="334" width="1" height="20" fill="#26a69a"/><rect x="918" y="344" width="3" height="10" fill="#26a69a"/>
<rect x="924" y="344" width="1" height="183" fill="#ef5350"/><rect x="923" y="344" width="3" height="55" fill="#ef5350"/>
<rect x="928" y="390" width="1" height="21" fill="#26a69a"/><rect x="927" y="392" width="3" height="8" fill="#26a69a"/>
<rect x="932" y="388" width="1" height="18" fill="#26a69a"/><rect x="931" y="390" width="3" height="4" fill="#26a69a"/>
<rect x="936" y="388" width="1" height="6" fill="#ef5350"/><rect x="935" y="390" width="3" height="3" fill="#ef5350"/>
<rect x="940" y="391" width="1" height="42" fill="#ef5350"/><rect x="939" y="392" width="3" height="30" fill="#ef5350"/>
<rect x="945" y="417" width="1" height="14" fill="#26a69a"/><rect x="944" y="420" width="3" height="2" fill="#26a69a"/>
<rect x="949" y="416" width="1" height="14" fill="#26a69a"/><rect x="948" y="419" width="3" height="1" fill="#26a69a"/>
<rect x="953" y="411" width="1" height="10" fill="#ef5350"/><rect x="952" y="419" width="3" height="1" fill="#ef5350"/>
<rect x="957" y="412" width="1" height="10" fill="#26a69a"/><rect x="956" y="416" width="3" height="4" fill="#26a69a"/>
<rect x="961" y="413" width="1" height="11" fill="#ef5350"/><rect x="960" y="416" width="3" height="7" fill="#ef5350"/>
<rect x="965" y="420" width="1" height="9" fill="#26a69a"/><rect x="964" y="422" width="3" height="2" fill="#26a69a"/>
<rect x="970" y="414" width="1" height="14" fill="#ef5350"/><rect x="969" y="422" width="3" height="5" fill="#ef5350"/>
<rect x="974" y="414" width="1" height="24" fill="#26a69a"/><rect x="973" y="427" width="3" height="1" fill="#26a69a"/>
<rect x="978" y="411" width="1" height="16" fill="#26a69a"/><rect x="977" y="422" width="3" height="5" fill="#26a69a"/>
<rect x="982" y="416" width="1" height="7" fill="#26a69a"/><rect x="981" y="417" width="3" height="6" fill="#26a69a"/>
<rect x="986" y="395" width="1" height="23" fill="#26a69a"/><rect x="985" y="402" width="3" height="15" fill="#26a69a"/>
<rect x="991" y="397" width="1" height="21" fill="#ef5350"/><rect x="990" y="402" width="3" height="10" fill="#ef5350"/>
<rect x="995" y="403" width="1" height="22" fill="#ef5350"/><rect x="994" y="411" width="3" height="13" fill="#ef5350"/>
<rect x="999" y="418" width="1" height="11" fill="#ef5350"/><rect x="998" y="424" width="3" height="4" fill="#ef5350"/>
<rect x="1003" y="424" width="1" height="10" fill="#ef5350"/><rect x="1002" y="427" width="3" height="6" fill="#ef5350"/>
<rect x="1007" y="427" width="1" height="20" fill="#26a69a"/><rect x="1006" y="429" width="3" height="4" fill="#26a69a"/>
<rect x="1012" y="417" width="1" height="13" fill="#26a69a"/><rect x="1011" y="417" width="3" height="13" fill="#26a69a"/>
<rect x="1016" y="401" width="1" height="21" fill="#26a69a"/><rect x="1015" y="408" width="3" height="9" fill="#26a69a"/>
<rect x="1020" y="406" width="1" height="8" fill="#26a69a"/><rect x="1019" y="409" width="3" height="3" fill="#26a69a"/>
<rect x="1024" y="409" width="1" height="15" fill="#ef5350"/><rect x="1023" y="410" width="3" height="13" fill="#ef5350"/>
<rect x="1028" y="421" width="1" height="6" fill="#ef5350"/><rect x="1027" y="422" width="3" height="3" fill="#ef5350"/>
<rect x="1033" y="420" width="1" height="11" fill="#ef5350"/><rect x="1032" y="424" width="3" height="6" fill="#ef5350"/>
<rect x="1037" y="423" width="1" height="15" fill="#26a69a"/><rect x="1036" y="424" width="3" height="6" fill="#26a69a"/>
<rect x="1041" y="421" width="1" height="6" fill="#ef5350"/><rect x="1040" y="423" width="3" height="3" fill="#ef5350"/>
<rect x="1045" y="425" width="1" height="7" fill="#ef5350"/><rect x="1044" y="425" width="3" height="3" fill="#ef5350"/>
<rect x="1049" y="423" width="1" height="8" fill="#26a69a"/><rect x="1048" y="427" width="3" height="2" fill="#26a69a"/>
<rect x="1053" y="425" width="1" height="19" fill="#ef5350"/><rect x="1052" y="427" width="3" height="8" fill="#ef5350"/>
<rect x="1058" y="433" width="1" height="8" fill="#ef5350"/><rect x="1057" y="434" width="3" height="6" fill="#ef5350"/>
<rect x="1062" y="425" width="1" height="17" fill="#26a69a"/><rect x="1061" y="428" width="3" height="11" fill="#26a69a"/>
<rect x="1066" y="425" width="1" height="11" fill="#26a69a"/><rect x="1065" y="428" width="3" height="1" fill="#26a69a"/>
<rect x="1070" y="426" width="1" height="10" fill="#ef5350"/><rect x="1069" y="428" width="3" height="1" fill="#ef5350"/>
<rect x="1074" y="426" width="1" height="6" fill="#ef5350"/><rect x="1073" y="429" width="3" height="2" fill="#ef5350"/>
<rect x="1079" y="428" width="1" height="8" fill="#ef5350"/><rect x="1078" y="431" width="3" height="1" fill="#ef5350"/>
<rect x="1083" y="405" width="1" height="31" fill="#26a69a"/><rect x="1082" y="422" width="3" height="9" fill="#26a69a"/>
<rect x="1087" y="421" width="1" height="11" fill="#ef5350"/><rect x="1086" y="422" width="3" height="5" fill="#ef5350"/>
<rect x="1091" y="416" width="1" height="13" fill="#26a69a"/><rect x="1090" y="420" width="3" height="7" fill="#26a69a"/>
<rect x="1095" y="401" width="1" height="21" fill="#26a69a"/><rect x="1094" y="413" width="3" height="8" fill="#26a69a"/>
<rect x="1100" y="386" width="1" height="31" fill="#26a69a"/><rect x="1099" y="398" width="3" height="16" fill="#26a69a"/>
<rect x="1104" y="389" width="1" height="17" fill="#ef5350"/><rect x="1103" y="398" width="3" height="8" fill="#ef5350"/>
<rect x="1108" y="403" width="1" height="24" fill="#ef5350"/><rect x="1107" y="406" width="3" height="12" fill="#ef5350"/>
<rect x="1112" y="410" width="1" height="12" fill="#26a69a"/><rect x="1111" y="412" width="3" height="6" fill="#26a69a"/>
<rect x="1116" y="410" width="1" height="21" fill="#ef5350"/><rect x="1115" y="412" width="3" height="19" fill="#ef5350"/>
<rect x="1120" y="427" width="1" height="21" fill="#ef5350"/><rect x="1119" y="429" width="3" height="10" fill="#ef5350"/>
<rect x="1125" y="426" width="1" height="29" fill="#ef5350"/><rect x="1124" y="439" width="3" height="8" fill="#ef5350"/>
<rect x="1129" y="443" width="1" height="30" fill="#ef5350"/><rect x="1128" y="446" width="3" height="23" fill="#ef5350"/>
<rect x="1133" y="458" width="1" height="22" fill="#26a69a"/><rect x="1132" y="466" width="3" height="3" fill="#26a69a"/>
<rect x="1137" y="463" width="1" height="8" fill="#ef5350"/><rect x="1136" y="466" width="3" height="4" fill="#ef5350"/>
<rect x="1141" y="466" width="1" height="9" fill="#26a69a"/><rect x="1140" y="467" width="3" height="3" fill="#26a69a"/>
<rect x="1146" y="463" width="1" height="8" fill="#ef5350"/><rect x="1145" y="466" width="3" height="4" fill="#ef5350"/>
<rect x="1150" y="467" width="1" height="9" fill="#ef5350"/><rect x="1149" y="469" width="3" height="6" fill="#ef5350"/>
<rect x="1154" y="464" width="1" height="11" fill="#26a69a"/><rect x="1153" y="467" width="3" height="8" fill="#26a69a"/>
<rect x="1158" y="465" width="1" height="7" fill="#ef5350"/><rect x="1157" y="467" width="3" height="3" fill="#ef5350"/>
<rect x="1162" y="465" width="1" height="5" fill="#26a69a"/><rect x="1161" y="466" width="3" height="4" fill="#26a69a"/>
<rect x="1167" y="464" width="1" height="6" fill="#ef5350"/><rect x="1166" y="466" width="3" height="1" fill="#ef5350"/>
<rect x="1171" y="444" width="1" height="24" fill="#26a69a"/><rect x="1170" y="449" width="3" height="18" fill="#26a69a"/>
<rect x="1175" y="442" width="1" height="18" fill="#ef5350"/><rect x="1174" y="450" width="3" height="3" fill="#ef5350"/>
<rect x="1179" y="445" width="1" height="11" fill="#ef5350"/><rect x="1178" y="451" width="3" height="3" fill="#ef5350"/>
<rect x="1183" y="441" width="1" height="16" fill="#26a69a"/><rect x="1182" y="443" width="3" height="12" fill="#26a69a"/>
<rect x="1187" y="425" width="1" height="21" fill="#26a69a"/><rect x="1186" y="425" width="3" height="18" fill="#26a69a"/>
<rect x="1192" y="402" width="1" height="27" fill="#26a69a"/><rect x="1191" y="420" width="3" height="6" fill="#26a69a"/>
<rect x="1196" y="395" width="1" height="31" fill="#26a69a"/><rect x="1195" y="411" width="3" height="10" fill="#26a69a"/>
<rect x="1200" y="393" width="1" height="19" fill="#26a69a"/><rect x="1199" y="395" width="3" height="17" fill="#26a69a"/>
<rect x="1204" y="389" width="1" height="33" fill="#ef5350"/><rect x="1203" y="395" width="3" height="25" fill="#ef5350"/>
<rect x="1208" y="401" width="1" height="42" fill="#ef5350"/><rect x="1207" y="419" width="3" height="19" fill="#ef5350"/>
<rect x="1213" y="430" width="1" height="26" fill="#ef5350"/><rect x="1212" y="437" width="3" height="14" fill="#ef5350"/>
<rect x="1217" y="430" width="1" height="21" fill="#26a69a"/><rect x="1216" y="432" width="3" height="19" fill="#26a69a"/>
<rect x="1221" y="415" width="1" height="20" fill="#26a69a"/><rect x="1220" y="424" width="3" height="8" fill="#26a69a"/>
<rect x="1225" y="422" width="1" height="14" fill="#ef5350"/><rect x="1224" y="424" width="3" height="5" fill="#ef5350"/>
<rect x="1229" y="417" width="1" height="17" fill="#26a69a"/><rect x="1228" y="424" width="3" height="5" fill="#26a69a"/>
<rect x="1234" y="409" width="1" height="16" fill="#26a69a"/><rect x="1233" y="413" width="3" height="11" fill="#26a69a"/>
<rect x="1238" y="407" width="1" height="14" fill="#ef5350"/><rect x="1237" y="413" width="3" height="5" fill="#ef5350"/>
<rect x="1242" y="410" width="1" height="11" fill="#26a69a"/><rect x="1241" y="412" width="3" height="6" fill="#26a69a"/>
<rect x="1246" y="401" width="1" height="12" fill="#26a69a"/><rect x="1245" y="403" width="3" height="10" fill="#26a69a"/>
<rect x="1250" y="389" width="1" height="15" fill="#26a69a"/><rect x="1249" y="392" width="3" height="12" fill="#26a69a"/>
<rect x="1254" y="388" width="1" height="17" fill="#26a69a"/><rect x="1253" y="390" width="3" height="2" fill="#26a69a"/>
<rect x="1259" y="332" width="1" height="64" fill="#26a69a"/><rect x="1258" y="342" width="3" height="48" fill="#26a69a"/>
<rect x="1263" y="328" width="1" height="25" fill="#26a69a"/><rect x="1262" y="341" width="3" height="1" fill="#26a69a"/>
<rect x="1267" y="332" width="1" height="22" fill="#26a69a"/><rect x="1266" y="334" width="3" height="8" fill="#26a69a"/>
<rect x="1271" y="278" width="1" height="65" fill="#26a69a"/><rect x="1270" y="287" width="3" height="48" fill="#26a69a"/>
<rect x="1275" y="282" width="1" height="29" fill="#ef5350"/><rect x="1274" y="287" width="3" height="22" fill="#ef5350"/>
<rect x="1280" y="298" width="1" height="14" fill="#26a69a"/><rect x="1279" y="300" width="3" height="8" fill="#26a69a"/>
<rect x="1284" y="287" width="1" height="15" fill="#ef5350"/><rect x="1283" y="301" width="3" height="1" fill="#ef5350"/>
</g>
<line x1="10" y1="301.5" x2="1320" y2="301.5" stroke="#ef5350" stroke-width="1" stroke-dasharray="1 2" shape-rendering="crispEdges"/>
<path d="M11.1,639.8 L15.3,637.0 L19.5,650.0 L23.7,630.9 L27.8,654.0 L32.0,677.1 L36.2,654.5 L40.4,659.4 L44.6,658.0 L48.8,649.3 L53.0,646.9 L57.2,645.7 L61.3,641.7 L65.5,635.6 L69.7,635.1 L73.9,643.4 L78.1,647.4 L82.3,645.7 L86.5,642.7 L90.7,641.0 L94.9,644.1 L99.0,648.8 L103.2,648.6 L107.4,647.4 L111.6,650.9 L115.8,649.3 L120.0,639.8 L124.2,631.6 L128.4,636.3 L132.5,632.8 L136.7,631.6 L140.9,625.7 L145.1,635.8 L149.3,633.2 L153.5,632.1 L157.7,623.8 L161.9,632.3 L166.1,597.4 L170.2,590.4 L174.4,569.8 L178.6,564.0 L182.8,613.2 L187.0,602.1 L191.2,592.7 L195.4,583.8 L199.6,637.5 L203.7,628.1 L207.9,621.0 L212.1,634.4 L216.3,636.3 L220.5,629.9 L224.7,632.8 L228.9,646.9 L233.1,659.9 L237.3,679.2 L241.4,663.4 L245.6,665.1 L249.8,655.2 L254.0,645.0 L258.2,652.1 L262.4,655.2 L266.6,652.8 L270.8,658.7 L274.9,661.5 L279.1,663.4 L283.3,658.7 L287.5,654.7 L291.7,666.5 L295.9,657.5 L300.1,658.7 L304.3,654.0 L308.5,646.4 L312.6,639.8 L316.8,641.0 L321.0,635.1 L325.2,658.0 L329.4,652.8 L333.6,644.6 L337.8,650.5 L342.0,650.9 L346.1,645.7 L350.3,650.0 L354.5,641.7 L358.7,631.6 L362.9,609.7 L367.1,622.2 L371.3,629.2 L375.5,663.4 L379.7,658.2 L383.8,645.3 L388.0,648.8 L392.2,649.3 L396.4,658.7 L400.6,661.5 L404.8,667.4 L409.0,650.0 L413.2,662.2 L417.3,678.7 L421.5,682.3 L425.7,671.7 L429.9,656.3 L434.1,655.2 L438.3,658.7 L442.5,650.5 L446.7,659.9 L450.8,656.8 L455.0,646.9 L459.2,650.9 L463.4,645.7 L467.6,648.6 L471.8,627.6 L476.0,631.6 L480.2,656.3 L484.4,648.1 L488.5,642.2 L492.7,636.3 L496.9,626.4 L501.1,623.8 L505.3,651.2 L509.5,655.9 L513.7,662.9 L517.9,655.6 L522.0,657.5 L526.2,675.2 L530.4,659.9 L534.6,669.8 L538.8,687.0 L543.0,683.4 L547.2,658.0 L551.4,648.1 L555.6,645.0 L559.7,639.4 L563.9,644.6 L568.1,639.1 L572.3,653.5 L576.5,657.5 L580.7,658.7 L584.9,652.8 L589.1,661.1 L593.2,697.1 L597.4,708.9 L601.6,708.2 L605.8,701.1 L610.0,705.8 L614.2,697.6 L618.4,695.2 L622.6,701.6 L626.8,659.2 L630.9,658.2 L635.1,658.2 L639.3,662.2 L643.5,657.5 L647.7,645.3 L651.9,660.3 L656.1,664.1 L660.3,670.0 L664.4,667.4 L668.6,671.7 L672.8,666.9 L677.0,675.2 L681.2,654.0 L685.4,637.5 L689.6,634.7 L693.8,633.2 L698.0,651.6 L702.1,647.4 L706.3,658.7 L710.5,658.7 L714.7,661.5 L718.9,648.1 L723.1,643.4 L727.3,653.5 L731.5,656.8 L735.6,673.5 L739.8,679.4 L744.0,694.1 L748.2,687.5 L752.4,695.7 L756.6,704.0 L760.8,696.9 L765.0,709.8 L769.2,688.9 L773.3,689.3 L777.5,691.7 L781.7,701.1 L785.9,699.9 L790.1,710.6 L794.3,711.3 L798.5,719.3 L802.7,732.5 L806.8,723.5 L811.0,679.9 L815.2,680.4 L819.4,681.1 L823.6,690.5 L827.8,700.7 L832.0,704.7 L836.2,707.7 L840.4,713.6 L844.5,707.7 L848.7,654.5 L852.9,666.9 L857.1,676.8 L861.3,677.6 L865.5,673.5 L869.7,677.6 L873.9,691.2 L878.0,686.5 L882.2,691.2 L886.4,703.5 L890.6,708.2 L894.8,709.4 L899.0,704.0 L903.2,719.5 L907.4,712.9 L911.6,718.8 L915.7,705.8 L919.9,692.4 L924.1,724.0 L928.3,718.8 L932.5,714.1 L936.7,715.3 L940.9,728.7 L945.1,727.5 L949.2,726.1 L953.4,726.1 L957.6,721.4 L961.8,724.7 L966.0,723.0 L970.2,726.3 L974.4,725.4 L978.6,717.6 L982.8,707.0 L986.9,683.0 L991.1,691.7 L995.3,703.0 L999.5,705.4 L1003.7,710.1 L1007.9,703.0 L1012.1,686.3 L1016.3,675.2 L1020.4,672.4 L1024.6,687.5 L1028.8,689.3 L1033.0,695.2 L1037.2,683.0 L1041.4,685.8 L1045.6,688.2 L1049.8,687.7 L1054.0,697.1 L1058.1,702.3 L1062.3,679.9 L1066.5,679.2 L1070.7,681.6 L1074.9,683.0 L1079.1,683.4 L1083.3,668.1 L1087.5,674.7 L1091.6,659.9 L1095.8,646.9 L1100.0,623.8 L1104.2,640.3 L1108.4,658.7 L1112.6,651.6 L1116.8,676.8 L1121.0,687.5 L1125.1,695.9 L1129.3,712.9 L1133.5,709.4 L1137.7,711.7 L1141.9,707.0 L1146.1,709.4 L1150.3,714.1 L1154.5,700.4 L1158.7,702.8 L1162.8,694.5 L1167.0,695.9 L1171.2,664.1 L1175.4,669.8 L1179.6,670.5 L1183.8,651.2 L1188.0,629.9 L1192.2,624.5 L1196.3,614.6 L1200.5,602.1 L1204.7,638.7 L1208.9,659.9 L1213.1,672.1 L1217.3,652.8 L1221.5,646.2 L1225.7,651.2 L1229.9,646.2 L1234.0,637.0 L1238.2,641.5 L1242.4,635.8 L1246.6,628.5 L1250.8,619.1 L1255.0,617.5 L1259.2,589.2 L1263.4,588.7 L1267.5,585.6 L1271.7,569.6 L1275.9,593.9 L1280.1,590.8 L1284.3,592.0" fill="none" stroke="#7e57c2" stroke-width="2" stroke-linejoin="round" stroke-linecap="round"/>
<text x="10.5" y="18.7" textLength="59.1" lengthAdjust="spacingAndGlyphs" stroke="#131722" stroke-width="0.2">ranadagger</text>
<text x="74.3" y="18.7" textLength="49.8" lengthAdjust="spacingAndGlyphs" stroke="#131722" stroke-width="0.2">published</text>
<text x="129.3" y="18.7" textLength="12" lengthAdjust="spacingAndGlyphs" stroke="#131722" stroke-width="0.2">on</text>
<text x="146.1" y="18.7" textLength="93.5" lengthAdjust="spacingAndGlyphs" stroke="#131722" stroke-width="0.2">TradingView.com,</text>
<text x="244.0" y="18.7" textLength="18.2" lengthAdjust="spacingAndGlyphs" stroke="#131722" stroke-width="0.2">Sep</text>
<text x="267.0" y="18.7" textLength="15.5" lengthAdjust="spacingAndGlyphs" stroke="#131722" stroke-width="0.2">04,</text>
<text x="287.6" y="18.7" textLength="22.9" lengthAdjust="spacingAndGlyphs" stroke="#131722" stroke-width="0.2">2023</text>
<text x="316" y="18.7" textLength="28.7" lengthAdjust="spacingAndGlyphs" stroke="#131722" stroke-width="0.2">06:51</text>
<text x="349.9" y="18.7" textLength="20.7" lengthAdjust="spacingAndGlyphs" stroke="#131722" stroke-width="0.2">UTC</text>
<text x="18.5" y="46.1" textLength="82.5" lengthAdjust="spacingAndGlyphs" stroke="#131722" stroke-width="0.2">Toncoin/Tether,</text>
<text x="106.5" y="46.1" textLength="16.5" lengthAdjust="spacingAndGlyphs" stroke="#131722" stroke-width="0.2">1D,</text>
<text x="127.9" y="46.1" textLength="21.5" lengthAdjust="spacingAndGlyphs" stroke="#131722" stroke-width="0.2">OKX</text>
<text x="156.8" y="46.1" textLength="7.4" lengthAdjust="spacingAndGlyphs" stroke="#131722" stroke-width="0.2">O</text>
<text x="165.3" y="46.1" textLength="34.7" lengthAdjust="spacingAndGlyphs" fill="#ef5350" stroke="#ef5350" stroke-width="0.2">1.8869</text>
<text x="207.8" y="46.1" textLength="7.2" lengthAdjust="spacingAndGlyphs" stroke="#131722" stroke-width="0.2">H</text>
<text x="215.9" y="46.1" textLength="35.3" lengthAdjust="spacingAndGlyphs" fill="#ef5350" stroke="#ef5350" stroke-width="0.2">1.9418</text>
<text x="258.9" y="46.1" textLength="5.5" lengthAdjust="spacingAndGlyphs" stroke="#131722" stroke-width="0.2">L</text>
<text x="265.4" y="46.1" textLength="34" lengthAdjust="spacingAndGlyphs" fill="#ef5350" stroke="#ef5350" stroke-width="0.2">1.8801</text>
<text x="307.9" y="46.1" textLength="6.8" lengthAdjust="spacingAndGlyphs" stroke="#131722" stroke-width="0.2">C</text>
<text x="315.6" y="46.1" textLength="35.4" lengthAdjust="spacingAndGlyphs" fill="#ef5350" stroke="#ef5350" stroke-width="0.2">1.8854</text>
<text x="358.6" y="46.1" textLength="41.5" lengthAdjust="spacingAndGlyphs" fill="#ef5350" stroke="#ef5350" stroke-width="0.2">−0.0031</text>
<text x="405.2" y="46.1" textLength="44.1" lengthAdjust="spacingAndGlyphs" fill="#ef5350" stroke="#ef5350" stroke-width="0.2">(−0.16%)</text>
<text x="18.5" y="63.1" textLength="21.1" lengthAdjust="spacingAndGlyphs" stroke="#131722" stroke-width="0.2">EMA</text>
<text x="44.6" y="63.1" textLength="19" lengthAdjust="spacingAndGlyphs" stroke="#131722" stroke-width="0.2">(20,</text>
<text x="69" y="63.1" textLength="30.9" lengthAdjust="spacingAndGlyphs" stroke="#131722" stroke-width="0.2">close,</text>
<text x="104" y="63.1" textLength="9.9" lengthAdjust="spacingAndGlyphs" stroke="#131722" stroke-width="0.2">0)</text>
<text x="122.6" y="63.1" textLength="35" lengthAdjust="spacingAndGlyphs" fill="#0c3299" stroke="#0c3299" stroke-width="0.2">1.6182</text>
<text x="18.5" y="79.8" textLength="15.3" lengthAdjust="spacingAndGlyphs" stroke="#131722" stroke-width="0.2">MA</text>
<text x="38.5" y="79.8" textLength="18.9" lengthAdjust="spacingAndGlyphs" stroke="#131722" stroke-width="0.2">(50,</text>
<text x="62.7" y="79.8" textLength="31.1" lengthAdjust="spacingAndGlyphs" stroke="#131722" stroke-width="0.2">close,</text>
<text x="97.9" y="79.8" textLength="9.7" lengthAdjust="spacingAndGlyphs" stroke="#131722" stroke-width="0.2">0)</text>
<text x="116.4" y="79.8" textLength="34.6" lengthAdjust="spacingAndGlyphs" fill="#f23645" stroke="#f23645" stroke-width="0.2">1.4096</text>
<text x="18.4" y="573.9" textLength="14.6" lengthAdjust="spacingAndGlyphs" stroke="#131722" stroke-width="0.2">RSI</text>
<text x="38.9" y="573.9" textLength="18.8" lengthAdjust="spacingAndGlyphs" stroke="#131722" stroke-width="0.2">(14,</text>
<text x="63.2" y="573.9" textLength="30.4" lengthAdjust="spacingAndGlyphs" stroke="#131722" stroke-width="0.2">close)</text>
<text x="101.8" y="573.9" textLength="29.5" lengthAdjust="spacingAndGlyphs" fill="#7e57c2" stroke="#7e57c2" stroke-width="0.2">74.70</text>
<text x="1388.3" y="82.1" textLength="35.5" lengthAdjust="spacingAndGlyphs" stroke="#131722" stroke-width="0.2">2.8000</text>
<text x="1388.3" y="131.1" textLength="35.5" lengthAdjust="spacingAndGlyphs" stroke="#131722" stroke-width="0.2">2.6000</text>
<text x="1388.3" y="179.1" textLength="35.5" lengthAdjust="spacingAndGlyphs" stroke="#131722" stroke-width="0.2">2.4000</text>
<text x="1388.3" y="228.1" textLength="35.5" lengthAdjust="spacingAndGlyphs" stroke="#131722" stroke-width="0.2">2.2000</text>
<text x="1388.3" y="277.1" textLength="35.5" lengthAdjust="spacingAndGlyphs" stroke="#131722" stroke-width="0.2">2.0000</text>
<text x="1388.3" y="472.1" textLength="35.5" lengthAdjust="spacingAndGlyphs" stroke="#131722" stroke-width="0.2">1.2000</text>
<text x="1388.3" y="521.1" textLength="35.5" lengthAdjust="spacingAndGlyphs" stroke="#131722" stroke-width="0.2">1.0000</text>
<text x="1388.2" y="582.0" textLength="29.3" lengthAdjust="spacingAndGlyphs" stroke="#131722" stroke-width="0.2">80.00</text>
<text x="1388.2" y="636.0" textLength="29.3" lengthAdjust="spacingAndGlyphs" stroke="#131722" stroke-width="0.2">60.00</text>
<text x="1388.2" y="690.0" textLength="29.3" lengthAdjust="spacingAndGlyphs" stroke="#131722" stroke-width="0.2">40.00</text>
<clipPath id="c20"><rect x="1381" y="700" width="62" height="43"/></clipPath>
<text x="1388.2" y="744.0" textLength="29.3" lengthAdjust="spacingAndGlyphs" stroke="#131722" stroke-width="0.2" clip-path="url(#c20)">20.00</text>
<text x="114.6" y="761" textLength="19.8" lengthAdjust="spacingAndGlyphs" stroke="#131722" stroke-width="0.2">Dec</text>
<text x="241.0" y="761" textLength="27" lengthAdjust="spacingAndGlyphs" font-weight="bold" stroke="#131722" stroke-width="0.2">2023</text>
<text x="373.8" y="761" textLength="19.5" lengthAdjust="spacingAndGlyphs" stroke="#131722" stroke-width="0.2">Feb</text>
<text x="491.8" y="761" textLength="19.5" lengthAdjust="spacingAndGlyphs" stroke="#131722" stroke-width="0.2">Mar</text>
<text x="621.2" y="761" textLength="18.6" lengthAdjust="spacingAndGlyphs" stroke="#131722" stroke-width="0.2">Apr</text>
<text x="746.0" y="761" textLength="21" lengthAdjust="spacingAndGlyphs" stroke="#131722" stroke-width="0.2">May</text>
<text x="877.2" y="761" textLength="18.6" lengthAdjust="spacingAndGlyphs" stroke="#131722" stroke-width="0.2">Jun</text>
<text x="1005.0" y="761" textLength="14.9" lengthAdjust="spacingAndGlyphs" stroke="#131722" stroke-width="0.2">Jul</text>
<text x="1131.5" y="761" textLength="19.9" lengthAdjust="spacingAndGlyphs" stroke="#131722" stroke-width="0.2">Aug</text>
<text x="1262.1" y="761" textLength="18.8" lengthAdjust="spacingAndGlyphs" stroke="#131722" stroke-width="0.2">Sep</text>
<text x="1366.0" y="761" textLength="11.7" lengthAdjust="spacingAndGlyphs" stroke="#131722" stroke-width="0.2">25</text>
<rect x="1384" y="30.5" width="56.5" height="25" rx="4" fill="#fff" stroke="#e0e3eb" stroke-width="1"/>
<text x="1393.2" y="47.9" textLength="27.6" lengthAdjust="spacingAndGlyphs" stroke="#131722" stroke-width="0.2">USDT</text>
<path d="M1322,293 H1379 V310 H1322 Q1320,310 1320,308 V295 Q1320,293 1322,293 Z" fill="#ef5350"/>
<text x="1324.8" y="305.6" textLength="48.2" lengthAdjust="spacingAndGlyphs" fill="#fff" stroke="#fff" stroke-width="0.2">TONUSDT</text>
<path d="M1380,293 H1438 Q1440,293 1440,295 V336 Q1440,338 1438,338 H1380 Z" fill="#ef5350"/>
<text x="1388.8" y="305.5" textLength="35" lengthAdjust="spacingAndGlyphs" fill="#fff" stroke="#fff" stroke-width="0.2">1.8854</text>
<text x="1388.3" y="319.7" textLength="42.7" lengthAdjust="spacingAndGlyphs" fill="#fff" stroke="#fff" stroke-width="0.2">+17.32%</text>
<text x="1388.8" y="333.7" textLength="45.8" lengthAdjust="spacingAndGlyphs" fill="#fff" stroke="#fff" stroke-width="0.2" opacity="0.72">17:08:47</text>
<path d="M1349.3,358 H1379 V375 H1349.3 Q1347.3,375 1347.3,373 V360 Q1347.3,358 1349.3,358 Z" fill="#0c3299"/>
<text x="1351.8" y="370.8" textLength="22.1" lengthAdjust="spacingAndGlyphs" fill="#fff" stroke="#fff" stroke-width="0.2">EMA</text>
<path d="M1380,358 H1427 Q1429,358 1429,360 V373 Q1429,375 1427,375 H1380 Z" fill="#0c3299"/>
<text x="1388.8" y="370.8" textLength="35" lengthAdjust="spacingAndGlyphs" fill="#fff" stroke="#fff" stroke-width="0.2">1.6182</text>
<path d="M1380,380 H1427 Q1429,380 1429,382 V395 Q1429,397 1427,397 H1380 Z" fill="#0000ff"/>
<text x="1388.8" y="393.2" textLength="35" lengthAdjust="spacingAndGlyphs" fill="#fff" stroke="#fff" stroke-width="0.2">1.5300</text>
<path d="M1356.2,409 H1379 V426 H1356.2 Q1354.2,426 1354.2,424 V411 Q1354.2,409 1356.2,409 Z" fill="#f23645"/>
<text x="1358.6" y="421.9" textLength="15.3" lengthAdjust="spacingAndGlyphs" fill="#fff" stroke="#fff" stroke-width="0.2">MA</text>
<path d="M1380,409 H1427 Q1429,409 1429,411 V424 Q1429,426 1427,426 H1380 Z" fill="#f23645"/>
<text x="1388.8" y="421.9" textLength="35" lengthAdjust="spacingAndGlyphs" fill="#fff" stroke="#fff" stroke-width="0.2">1.4096</text>
<path d="M1355.2,584 H1379 V601 H1355.2 Q1353.2,601 1353.2,599 V586 Q1353.2,584 1355.2,584 Z" fill="#7e57c2"/>
<text x="1357.5" y="596.9" textLength="17" lengthAdjust="spacingAndGlyphs" fill="#fff" stroke="#fff" stroke-width="0.2">RSI</text>
<path d="M1380,584 H1421 Q1423,584 1423,586 V599 Q1423,601 1421,601 H1380 Z" fill="#7e57c2"/>
<text x="1388.2" y="596.9" textLength="29.3" lengthAdjust="spacingAndGlyphs" fill="#fff" stroke="#fff" stroke-width="0.2">74.70</text>
<text x="1016.9" y="469.6" textLength="11.2" lengthAdjust="spacingAndGlyphs" fill="#089981" font-weight="bold" font-size="21.5" stroke="#089981" stroke-width="0.2">S</text>
<text x="1146.6000000000001" y="510.8" textLength="13.6" lengthAdjust="spacingAndGlyphs" fill="#089981" font-weight="bold" font-size="21.5" stroke="#089981" stroke-width="0.2">H</text>
<text x="1217.7" y="477.2" textLength="11.2" lengthAdjust="spacingAndGlyphs" fill="#089981" font-weight="bold" font-size="21.5" stroke="#089981" stroke-width="0.2">S</text>
<g transform="translate(1284.6,541.4)"><circle r="9.9" fill="#fff" stroke="#9c27b0" stroke-width="1.25"/><path d="M3,-5.3 L-4.2,0.3 L-0.3,0.5 L-3.2,5.4 L4,-0.1 L0.3,-0.4 Z" fill="#9c27b0" stroke="#9c27b0" stroke-width="0.5" stroke-linejoin="round"/></g>
<g fill="#131722"><path d="M10,783 H17.9 V792.8 H13.4 V786.6 H10 Z"/><circle cx="21.25" cy="784.75" r="1.55"/><path d="M24.1,783 H29.8 L25.9,792.8 H20.8 Z"/></g>
<text x="33.1" y="792.8" textLength="70.2" lengthAdjust="spacingAndGlyphs" fill="#1e222d" font-size="12">TradingView</text>
</svg>
</body></html>
